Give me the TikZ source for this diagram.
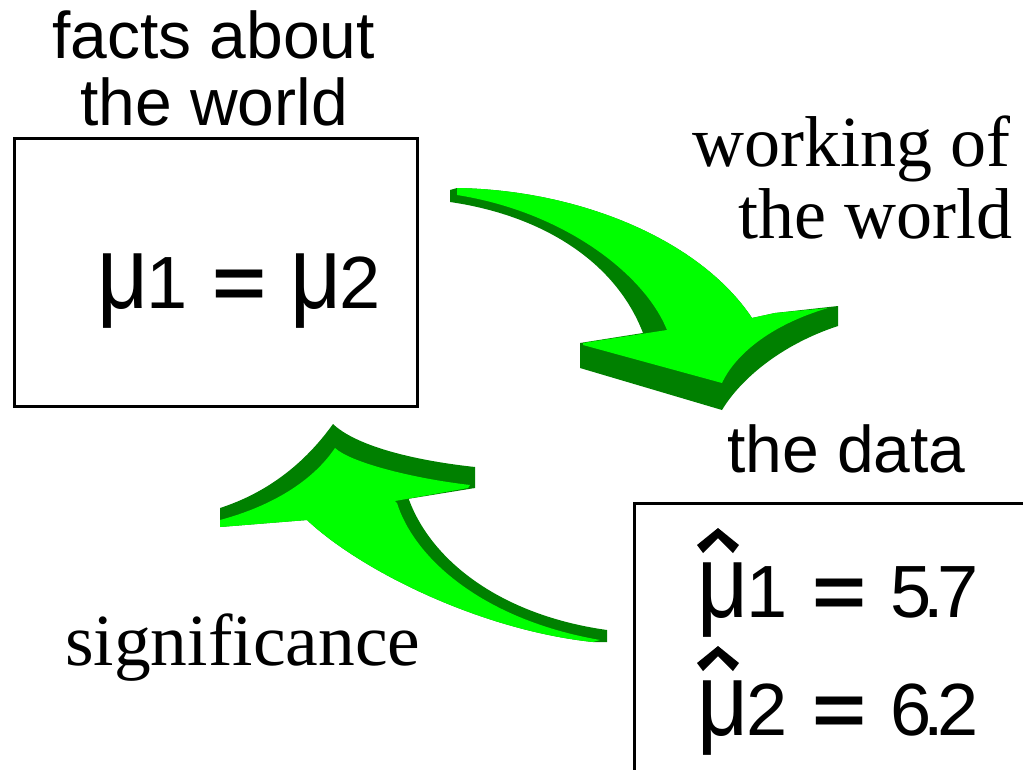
\documentclass[tikz,border=0pt]{standalone}
\usepackage{fontspec}
\setmainfont{Liberation Serif}
\newfontfamily\sansf{Liberation Sans}
\definecolor{litegreen}{RGB}{0,255,0}
\definecolor{deepgreen}{RGB}{0,128,0}
\newcommand{\tallmu}{\scalebox{1.2}[1.4]{μ}\kern-0.03em}
\newcommand{\bigeq}{\scalebox{1.25}[1]{\bfseries =}}
\newcommand{\tightdot}{\kern-0.1em.\kern-0.1em}
\newcommand{\eqspA}{\hspace{0.34em}}
\newcommand{\eqspB}{\hspace{0.32em}}
\tikzset{
  sanslabel/.style={inner sep=0pt, font=\sansf\fontsize{66}{66}\selectfont},
  eqlabel/.style={inner sep=0pt, font=\sansf\fontsize{74}{74}\selectfont},
  seriflabel/.style={inner sep=0pt, font=\fontsize{72}{72}\selectfont},
  framebox/.style={draw=black, line width=3pt, inner sep=0pt},
  arrowside/.style={fill=deepgreen, draw=none},
  arrowface/.style={fill=litegreen, draw=none},
  hatmark/.style={fill=black, draw=none}
}
\begin{document}
\begin{tikzpicture}[x=1pt,y=-1pt]
\useasboundingbox (0,0) rectangle (1023,769);
\fill[white] (0,0) rectangle (1023,769);

% boxes
\node[framebox, minimum width=403pt, minimum height=268pt] (truth) at (215.5,272) {};
\node[framebox, minimum width=406pt, minimum height=287pt] (data) at (837,646.5) {};

% labels
\node[sanslabel, anchor=base] (factsA) at (213.5,58) {facts about};
\node[sanslabel, anchor=base] (factsB) at (214,125) {the world};
\node[eqlabel, anchor=base west] (eqtruth) at (97,308) {\tallmu1\eqspA\bigeq\eqspB\tallmu2};
\node[sanslabel, anchor=base west] (datalabel) at (727,472) {the data};
\node[eqlabel, anchor=base west] (estA) at (697,617) {\tallmu1\eqspA\bigeq\eqspB5\tightdot7};
\node[eqlabel, anchor=base west] (estB) at (697,735) {\tallmu2\eqspA\bigeq\eqspB6\tightdot2};
\node[seriflabel, anchor=base west] (workA) at (692,166) {working of};
\node[seriflabel, anchor=base west] (workB) at (738,238) {the world};
\node[seriflabel, font=\fontsize{73.5}{73.5}\selectfont, anchor=base west] (signif) at (65,665) {significance};

% hats over the estimates
\foreach \est in {estA,estB}{
  \path[hatmark, shift={(\est.base west)}] (0,-72) -- (21,-89) -- (42,-72) -- (36,-64)
    -- (21,-79) -- (6,-64) -- cycle;
}

% arrow 1: working of the world (down-right)
\path[arrowside] (450,190) -- (457,188) .. controls (580,190) and (700,240) .. (752,318)
  -- (775,313) -- (838,306) -- (838,326) .. controls (780,345) and (740,380) .. (722,410)
  -- (580,368) -- (580,343) -- (643,333) .. controls (615,260) and (540,215) .. (450,202) -- cycle;
\path[arrowface] (457,188) .. controls (580,190) and (700,240) .. (752,318)
  -- (775,313) -- (828,308) .. controls (770,325) and (735,355) .. (722,383)
  -- (583,345) -- (583,343) -- (667,330) .. controls (645,275) and (565,212) .. (457,195) -- cycle;

% arrow 2: significance (up-left)
\path[arrowside] (220,527) -- (220,508) .. controls (260,495) and (300,470) .. (333,424)
  .. controls (355,445) and (410,460) .. (475,467) -- (475,488) -- (395,501) -- (408,497)
  .. controls (430,560) and (500,615) .. (607,630) -- (607,642) -- (593,642)
  .. controls (480,630) and (360,570) .. (307,520) -- cycle;
\path[arrowface] (220,527) -- (220,520) .. controls (265,508) and (310,485) .. (335,448)
  .. controls (350,462) and (410,478) .. (470,485) -- (468,488) -- (395,501) -- (397,503)
  .. controls (415,560) and (485,620) .. (600,640) -- (593,642)
  .. controls (480,630) and (360,570) .. (307,520) -- cycle;
\end{tikzpicture}
\end{document}
